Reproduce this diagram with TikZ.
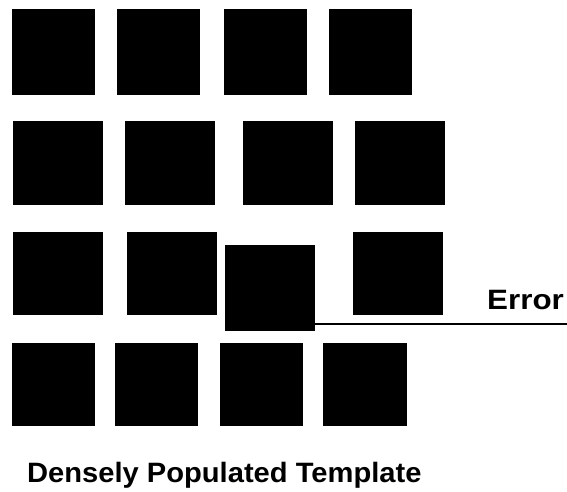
\documentclass[tikz,border=0pt]{standalone}
\usepackage{fontspec}
\usepackage{tikz}
\newfontfamily\labelfont[FakeStretch=1.04]{Liberation Sans}
\newfontfamily\errfont[FakeStretch=1.12]{Liberation Sans}
\tikzset{
  sq/.style={fill=black,draw=none,inner sep=0pt,outer sep=0pt,anchor=north west},
  errline/.style={line width=1.4pt,black},
  lbl/.style={inner sep=0pt,anchor=base west,font=\labelfont\bfseries\fontsize{28}{30}\selectfont}
}
\begin{document}
\begin{tikzpicture}[x=1pt,y=-1pt]
\useasboundingbox[fill=white] (0,0) rectangle (567,492);
% template squares: name/left/top/width/height
\foreach \n/\x/\y/\w/\h in {
  aa/12/9/83/86, ab/117/9/83/86, ac/224/9/83/86, ad/329/9/83/86,
  ba/13/121/90/84, bb/125/121/90/84, bc/243/121/90/84, bd/355/121/90/84,
  ca/13/232/90/83, cb/127/232/90/83, cd/353/232/90/83,
  da/12/343/83/83, db/115/343/83/83, dc/220/343/83/83, dd/323/343/84/83}
  {\node[sq,minimum width=\w pt,minimum height=\h pt] (\n) at (\x,\y) {};}
% misplaced square
\node[sq,minimum width=90pt,minimum height=86pt] (cc) at (225,245) {};
\coordinate (errend) at (567,324);
\draw[errline] (cc.east |- errend) -- (errend);
\node[lbl,font=\errfont\bfseries\fontsize{28}{30}\selectfont] (err) at (487,309) {Error};
\node[lbl] (title) at (27,482) {Densely Populated Template};
\end{tikzpicture}
\end{document}
